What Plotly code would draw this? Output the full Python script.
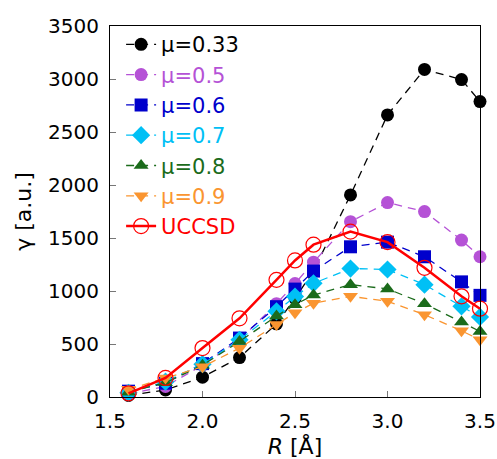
import plotly.graph_objects as go

R = [1.6, 1.8, 2.0, 2.2, 2.4, 2.5, 2.6, 2.8, 3.0, 3.2, 3.4, 3.5]

mu033 = [15, 66, 187, 372, 690, 930, 1190, 1906, 2661, 3090, 2995, 2787]
mu05 = [30, 100, 300, 540, 880, 1070, 1272, 1654, 1834, 1749, 1480, 1323]
mu06 = [55, 130, 315, 556, 852, 1018, 1188, 1417, 1461, 1323, 1086, 959]
mu07 = [40, 145, 310, 540, 808, 947, 1072, 1212, 1203, 1060, 855, 755]
mu08 = [45, 135, 300, 524, 763, 871, 962, 1060, 1020, 880, 707, 618]
mu09 = [72, 180, 285, 461, 684, 795, 884, 950, 903, 777, 625, 540]
uccsd = [35, 180, 462, 742, 1105, 1288, 1437, 1560, 1461, 1219, 950, 833]

names = ["μ=0.33", "μ=0.5", "μ=0.6", "μ=0.7", "μ=0.8", "μ=0.9"]
series = [mu033, mu05, mu06, mu07, mu08, mu09]
colors = ["#000000", "#B552D6", "#0000CC", "#00C0F5", "#1B6B1B", "#FA9530"]
symbols = ["circle", "circle", "square", "diamond", "triangle-up", "triangle-down"]
sizes = [13, 13, 13, 14, 13, 13]
red = "#FF0000"

FONT = "DejaVu Sans, Verdana, sans-serif"


def colored(text, color):
    return f"<span style='color:{color}'>{text}</span>"


fig = go.Figure()
for n, s, c, sym, sz in zip(names, series, colors, symbols, sizes):
    fig.add_trace(go.Scatter(
        x=R, y=s, name=colored(n, c), mode="lines+markers",
        line=dict(color=c, width=1.3, dash="8px,6px"),
        marker=dict(color=c, symbol=sym, size=sz, line=dict(width=0)),
        cliponaxis=False,
    ))
fig.add_trace(go.Scatter(
    x=R, y=uccsd, name=colored("UCCSD", red), mode="lines+markers",
    line=dict(color=red, width=2.5),
    marker=dict(color=red, symbol="circle-open", size=15, line=dict(width=1.2)),
    cliponaxis=False,
))

fig.update_layout(
    width=497, height=459,
    margin=dict(l=110, r=17, t=26, b=62, autoexpand=False),
    paper_bgcolor="white", plot_bgcolor="white",
    font=dict(family=FONT, size=20, color="black"),
    showlegend=True,
    legend=dict(
        x=0.03, y=1.005, xanchor="left", yanchor="top",
        bgcolor="rgba(0,0,0,0)", borderwidth=0,
        font=dict(size=21, family=FONT),
        itemwidth=30, tracegroupgap=0,
    ),
    xaxis=dict(
        range=[1.5, 3.5], tickvals=[1.5, 2.0, 2.5, 3.0, 3.5],
        ticktext=["1.5", "2.0", "2.5", "3.0", "3.5"],
        ticks="inside", ticklen=6, tickcolor="#777777", tickwidth=1,
        showline=True, linecolor="black", linewidth=1.2, mirror=True,
        showgrid=False, zeroline=False, automargin=False,
        tickfont=dict(size=20), ticklabelstandoff=6,
        title=dict(text="<i>R</i> [Å]", font=dict(size=22), standoff=8),
    ),
    yaxis=dict(
        range=[0, 3500], tickvals=[0, 500, 1000, 1500, 2000, 2500, 3000, 3500],
        ticks="inside", ticklen=6, tickcolor="#777777", tickwidth=1,
        showline=True, linecolor="black", linewidth=1.2, mirror=True,
        showgrid=False, zeroline=False, automargin=False,
        tickfont=dict(size=20), ticklabelstandoff=6,
        title=dict(text="γ [a.u.]", font=dict(size=22), standoff=10),
    ),
)

fig.write_html(
    "out.html",
    config={"displayModeBar": False},
    post_script="document.body.style.margin='0';document.body.style.overflow='hidden';",
)
